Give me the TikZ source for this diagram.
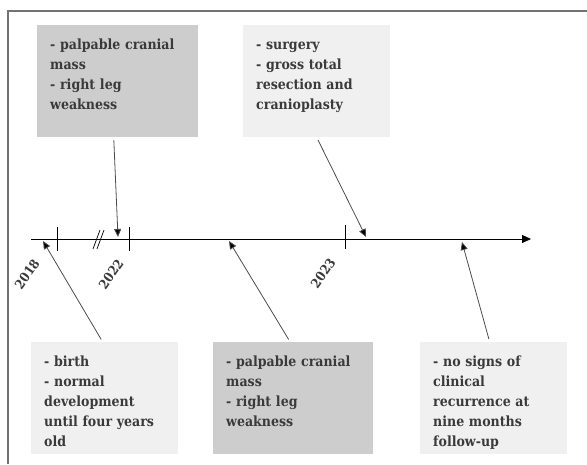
\documentclass[tikz,border=0pt]{standalone}
\usepackage{fontspec}
\setmainfont{DejaVu Serif Condensed}
\usetikzlibrary{arrows.meta, positioning}

\definecolor{darkbox}{HTML}{CDCDCD}
\definecolor{lightbox}{HTML}{F0F0F0}
\definecolor{boxtext}{HTML}{3A3A3A}

\begin{document}
\begin{tikzpicture}[x=1pt, y=-1pt]
        \tikzset{
            event box/.style={
                    anchor=north west, inner xsep=13pt, inner ysep=12pt, text width=#1,
                    align=left, text height=12pt, text depth=76pt,
                    font=\fontsize{14}{20}\selectfont\bfseries, text=boxtext
                },
            year label/.style={
                    font=\fontsize{13}{14}\selectfont\bfseries, text=boxtext, rotate=55, inner sep=0pt
                },
            pointer/.style={
                    draw=black!70, line width=0.8pt, shorten <=3pt,
                    -{Triangle[length=8pt, width=7pt, fill=black]}
                }
        }

        \useasboundingbox (0,0) rectangle (587,464);
        \draw[black!55, line width=1.2pt] (587,11) -- (8,11) -- (8,464);

        \node[event box=135pt, fill=darkbox] (massA) at (37,25) {- palpable cranial\\mass\\- right leg\\weakness};
        \node[event box=121pt, fill=lightbox] (surgery) at (243,25) {- surgery\\- gross total\\resection and\\cranioplasty};
        \node[event box=121pt, fill=lightbox] (birth) at (31,342) {- birth\\- normal\\development\\until four years\\old};
        \node[event box=134pt, fill=darkbox] (massB) at (213,342) {- palpable cranial\\mass\\- right leg\\weakness};
        \node[event box=121pt, fill=lightbox] (followup) at (420,342) {- no signs of\\clinical\\recurrence at\\nine months\\follow-up};

        \coordinate (axisstart) at (31,239);
        \coordinate (axisend) at (531,239);
        \draw[line width=0.8pt, -{Triangle[length=9pt, width=8pt]}] (axisstart) -- (axisend);

        \draw[line width=0.8pt] (57,227) -- (57,251);
        \draw[line width=0.8pt] (129,227) -- (129,251);
        \draw[line width=0.8pt] (345,225) -- (345,249);
        \draw[line width=0.7pt] (93,249) -- (100,230);
        \draw[line width=0.7pt] (97,249) -- (104,230);

        \node[year label] (y2018) at (27,274) {2018};
        \node[year label] (y2022) at (111,274) {2022};
        \node[year label] (y2023) at (323,273) {2023};

        \coordinate (hitA) at (118,237);
        \coordinate (hitS) at (366,237);
        \coordinate (hitB) at (43,241);
        \coordinate (hitM) at (229,241);
        \coordinate (hitF) at (462,242);

        \draw[pointer] ([xshift=-4pt]massA.south) -- (hitA);
        \draw[pointer] (surgery.south) -- (hitS);
        \draw[pointer] ([xshift=-2pt]birth.north) -- (hitB);
        \draw[pointer] ([xshift=-3pt]massB.north) -- (hitM);
        \draw[pointer] ([xshift=-4pt]followup.north) -- (hitF);
    \end{tikzpicture}
\end{document}
